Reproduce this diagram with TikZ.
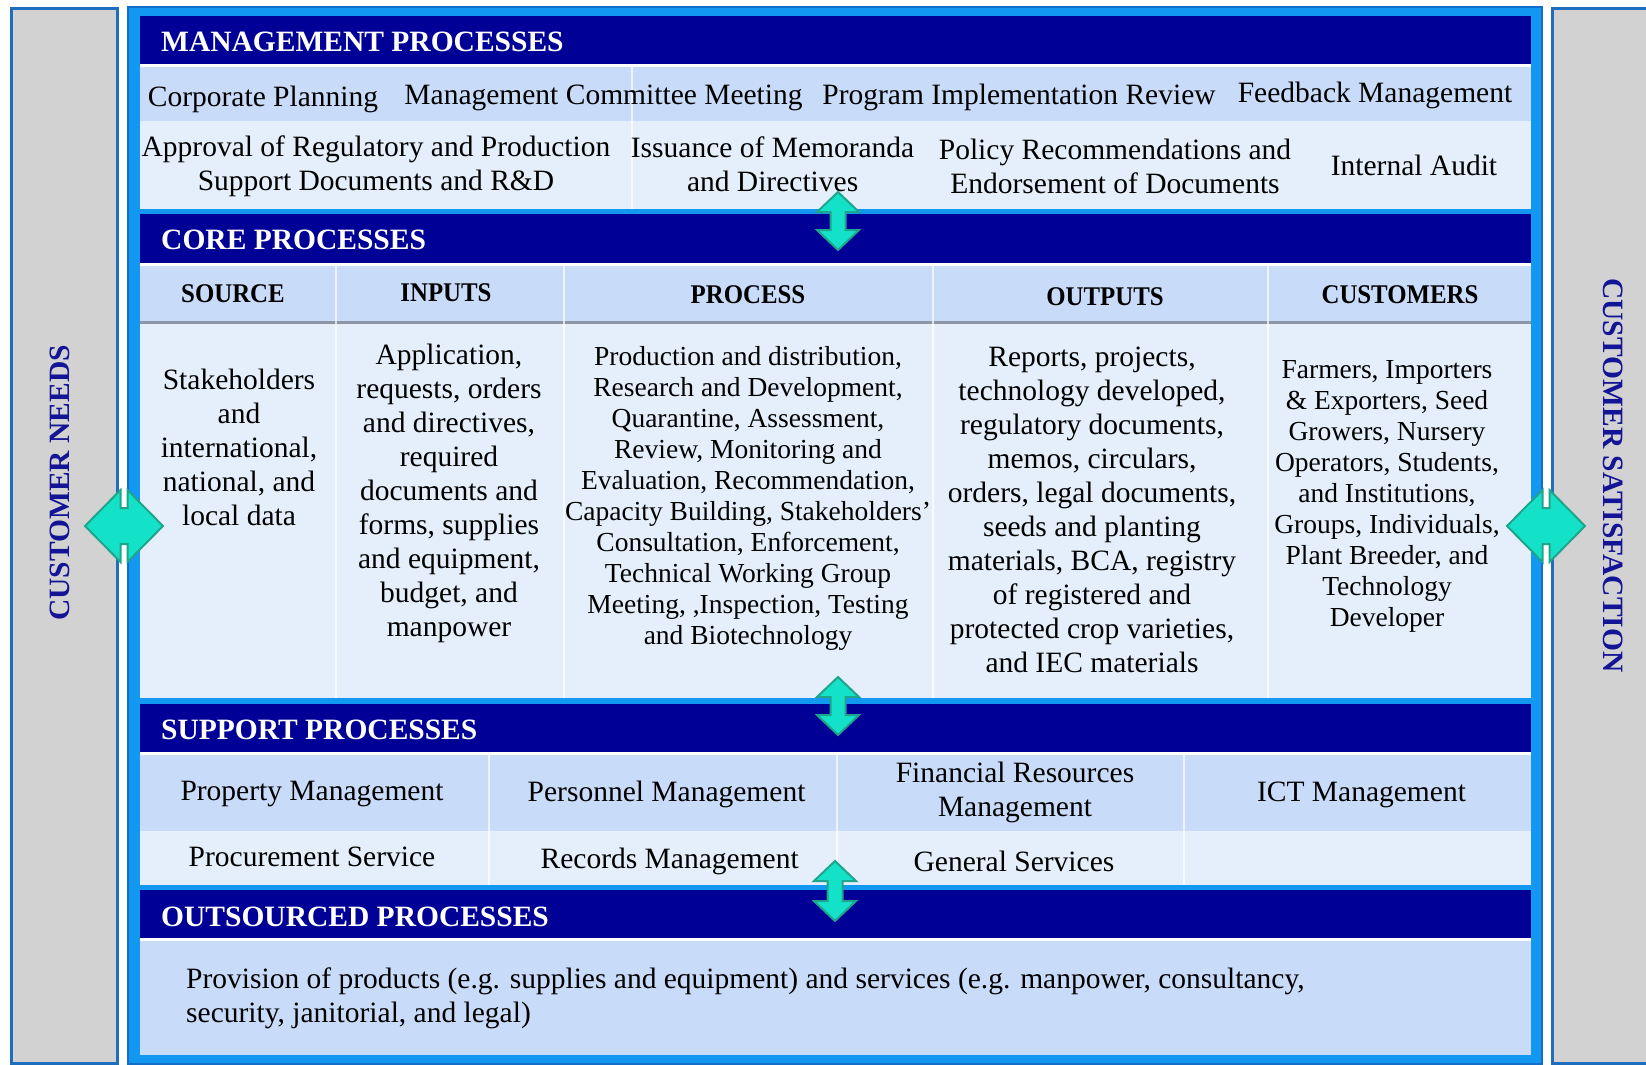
\documentclass[tikz,border=0pt]{standalone}
\usepackage{fontspec}
\setmainfont{Liberation Serif}
\definecolor{navy}{RGB}{0,0,150}
\definecolor{framebl}{RGB}{18,152,240}
\definecolor{framedk}{RGB}{20,110,200}
\definecolor{rowa}{RGB}{200,220,250}
\definecolor{rowb}{RGB}{229,239,252}
\definecolor{sidegray}{RGB}{210,210,210}
\definecolor{colborder}{RGB}{30,110,190}
\definecolor{sidetext}{RGB}{20,20,150}
\definecolor{teal}{RGB}{20,226,200}
\definecolor{tealdk}{RGB}{30,165,140}
\definecolor{linegray}{RGB}{140,150,165}
\tikzset{
  hdr/.style={font=\fontsize{29.5}{34}\selectfont\bfseries, text=white, inner sep=0pt, anchor=west},
  body/.style={font=\fontsize{29.5}{34}\selectfont, align=center, inner sep=0pt, text=black},
  small/.style={font=\fontsize{27.5}{31}\selectfont, align=center, inner sep=0pt, text=black},
  colhdr/.style={font=\fontsize{27}{30}\selectfont\bfseries, inner sep=0pt, text=black, xscale=0.92},
  side/.style={font=\fontsize{29.5}{34}\selectfont\bfseries, inner sep=0pt, text=sidetext},
  divider/.style={white, opacity=0.7, line width=1.5pt},
  arrowshape/.style={fill=teal, draw=tealdk, line width=2pt, line join=miter}
}
\newcommand\vdarrow[3]{%
  \draw[arrowshape] (#1,#2) -- ({#1+21},{#2+20}) -- ({#1+7.5},{#2+20}) -- ({#1+7.5},{#3-20}) -- ({#1+21},{#3-20}) -- (#1,#3) -- ({#1-21},{#3-20}) -- ({#1-7.5},{#3-20}) -- ({#1-7.5},{#2+20}) -- ({#1-21},{#2+20}) -- cycle;}
\newcommand\hdarrow[2]{%
  \draw[arrowshape] ({#1-39},#2) -- ({#1-3.5},{#2-36}) -- ({#1-3.5},{#2-18}) -- ({#1+3.5},{#2-18}) -- ({#1+3.5},{#2-36}) -- ({#1+39},#2) -- ({#1+3.5},{#2+36}) -- ({#1+3.5},{#2+18}) -- ({#1-3.5},{#2+18}) -- ({#1-3.5},{#2+36}) -- cycle;}
\begin{document}
\begin{tikzpicture}[x=1pt,y=-1pt]
\useasboundingbox (0,0) rectangle (1646,1065);
\fill[white] (0,0) rectangle (1646,1065);
% side columns
\draw[colborder, line width=3pt, fill=sidegray] (11.5,9) rectangle (117,1063);
\draw[colborder, line width=3pt, fill=sidegray] (1552,9) rectangle (1660,1063);
% main frame
\draw[framedk, line width=1.5pt, fill=framebl] (128,7) rectangle (1542,1064);
% management
\fill[white] (140,16) rectangle (1531,209);
\fill[navy] (140,16) rectangle (1531,64);
\fill[rowa] (140,67) rectangle (1531,121);
\fill[rowb] (140,121) rectangle (1531,209);
\draw[divider] (632,67) -- (632,209);
% core
\fill[white] (140,214) rectangle (1531,698);
\fill[navy] (140,214) rectangle (1531,263);
\fill[rowa] (140,266) rectangle (1531,321);
\fill[rowb] (140,324) rectangle (1531,698);
\draw[linegray, line width=3pt] (140,322) -- (1531,322);
\foreach \xx in {336,564,933,1268} \draw[divider] (\xx,266) -- (\xx,698);
% support
\fill[white] (140,704) rectangle (1531,885);
\fill[navy] (140,704) rectangle (1531,752);
\fill[rowa] (140,755) rectangle (1531,831);
\fill[rowb] (140,831) rectangle (1531,885);
\foreach \xx in {489,837,1184} \draw[divider] (\xx,755) -- (\xx,885);
% outsourced
\fill[white] (140,890) rectangle (1531,1055);
\fill[navy] (140,890) rectangle (1531,938);
\fill[rowa] (140,941) rectangle (1531,1055);

% headers
\node[hdr] (mgmt) at (161,42) {MANAGEMENT PROCESSES};
\node[hdr] (core) at (161,240) {CORE PROCESSES};
\node[hdr] (supp) at (161,729.5) {SUPPORT PROCESSES};
\node[hdr] (outs) at (161,917) {OUTSOURCED PROCESSES};

% management texts
\node[body] (m1) at (263,99) {Corporate Planning};
\node[body] (m2) at (603.5,98) {Management Committee Meeting};
\node[body] (m3) at (1019,97) {Program Implementation Review};
\node[body] (m4) at (1375,95) {Feedback Management};
\node[body] (m5) at (376,166) {Approval of Regulatory and Production\\Support Documents and R\&D};
\node[body] (m6) at (772.6,164.5) {Issuance of Memoranda\\and Directives};
\node[body] (m7) at (1115,166.5) {Policy Recommendations and\\Endorsement of Documents};
\node[body] (m8) at (1414,165.5) {Internal Audit};

% core column headers
\node[colhdr] (h1) at (233,294) {SOURCE};
\node[colhdr] (h2) at (446,293) {INPUTS};
\node[colhdr] (h3) at (748,295) {PROCESS};
\node[colhdr] (h4) at (1105,297) {OUTPUTS};
\node[colhdr] (h5) at (1400,295) {CUSTOMERS};

% core bodies
\node[body] (c1) at (239,447) {Stakeholders\\and\\international,\\national, and\\local data};
\node[body] (c2) at (449,493.5) {Application,\\requests, orders\\and directives,\\required\\documents and\\forms, supplies\\and equipment,\\budget, and\\manpower};
\node[small] (c3) at (748,498) {Production and distribution,\\Research and Development,\\Quarantine, Assessment,\\Review, Monitoring and\\Evaluation, Recommendation,\\Capacity Building, Stakeholders'\\Consultation, Enforcement,\\Technical Working Group\\Meeting, ,Inspection, Testing\\and Biotechnology};
\node[body] (c4) at (1092,510) {Reports, projects,\\technology developed,\\regulatory documents,\\memos, circulars,\\orders, legal documents,\\seeds and planting\\materials, BCA, registry\\of registered and\\protected crop varieties,\\and IEC materials};
\node[small] (c5) at (1387,496) {Farmers, Importers\\\& Exporters, Seed\\Growers, Nursery\\Operators, Students,\\and Institutions,\\Groups, Individuals,\\Plant Breeder, and\\Technology\\Developer};

% support texts
\node[body] (s1) at (312,794) {Property Management};
\node[body] (s2) at (666.6,794) {Personnel Management};
\node[body] (s3) at (1015,792) {Financial Resources\\Management};
\node[body] (s4) at (1361.5,795) {ICT Management};
\node[body] (s5) at (312,856.5) {Procurement Service};
\node[body] (s6) at (669.7,861) {Records Management};
\node[body] (s7) at (1014,861) {General Services};

% outsourced text
\node[body, align=left, anchor=west] (o1) at (186,998) {Provision of products (e.g. supplies and equipment) and services (e.g. manpower, consultancy,\\security, janitorial, and legal)};

% side labels
\node[side, rotate=90] (needs) at (60,483) {CUSTOMER NEEDS};
\node[side, rotate=-90] (satis) at (1613,475.5) {CUSTOMER SATISFACTION};

% arrows
\hdarrow{124}{526}
\hdarrow{1546}{526}
\vdarrow{838}{192}{250}
\vdarrow{838}{677}{735}
\vdarrow{835}{861}{921}
\end{tikzpicture}
\end{document}
